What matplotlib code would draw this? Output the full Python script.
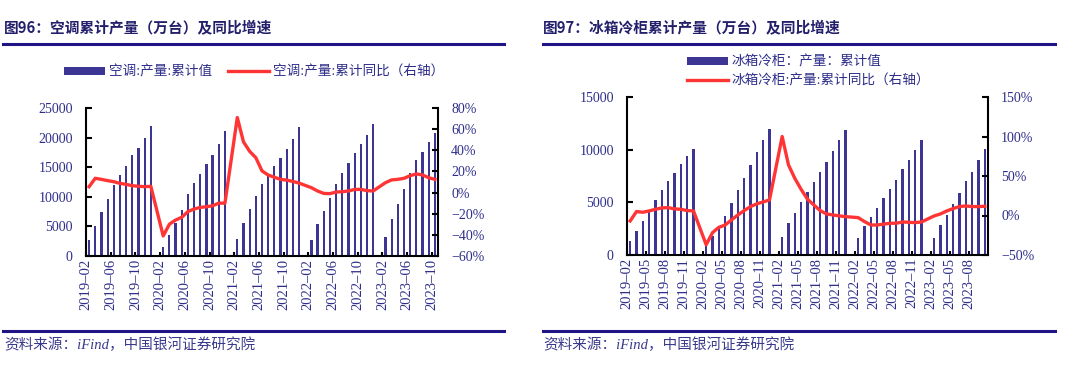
import numpy as np
import matplotlib
matplotlib.use('Agg')
import matplotlib.pyplot as plt
from matplotlib.lines import Line2D
from matplotlib.patches import Patch
from matplotlib.font_manager import FontProperties
from matplotlib.ticker import FuncFormatter

# ── Data (万台 / %), January has no separate value (merged into Jan-Feb) ──
months = [f'{y}-{m:02d}' for y in range(2019, 2024) for m in range(1, 13)]
months = months[1:months.index('2023-10') + 1]

ac_cum = [2660, 5090, 7470, 9670, 11930, 13740, 15210, 17020, 18270, 19910, 21890,
          None, 1530, 3560, 5490, 7750, 10400, 12270, 13860, 15610, 17020, 18950, 21040,
          None, 2830, 5490, 7860, 10120, 12160, 13600, 15210, 16560, 18050, 19720, 21760,
          None, 2770, 5370, 7640, 9840, 12160, 13970, 15670, 17480, 18950, 20420, 22230,
          None, 3240, 6180, 8770, 11310, 13970, 16290, 17650, 19340, 20700]
ac_yoy = [5.6, 13.5, 12.5, 11.3, 10.3, 8.7, 7.8, 6.5, 5.9, 5.6, 5.9,
          None, -41, -30, -26, -23.4, -18, -15.6, -14, -13.4, -12.5, -10, -10,
          None, 71, 48, 39, 33, 20.5, 16.6, 14.5, 12.5, 11.8, 10.5, 9,
          None, 4.6, 1.5, -0.8, -1, 0.5, 0.8, 1.5, 3, 3, 1.8, 1.5,
          None, 9.4, 12, 12.5, 13.5, 16, 17.6, 16.7, 14, 12.5]

fr_cum = [1330, 2280, 3240, 4120, 5230, 6180, 7040, 7830, 8660, 9420, 10050,
          None, 850, 1800, 2650, 3740, 4920, 6180, 7290, 8530, 9740, 10940, 11960,
          None, 1740, 3010, 4030, 5010, 5990, 6910, 7900, 8850, 9860, 10940, 11830,
          None, 1650, 2760, 3580, 4440, 5390, 6280, 7140, 8150, 8980, 9930, 10880,
          None, 1650, 2820, 3770, 4820, 5930, 7010, 7900, 9040, 10050]
fr_yoy = [-6.9, 5, 4.1, 5.8, 7.9, 9.6, 10, 8.3, 7.9, 6.2, 5.8,
          None, -37, -21.7, -15, -12, -5.6, 0.7, 6.2, 11.3, 14.7, 17.2, 19.7,
          None, 100, 64, 47, 33, 20.6, 13.4, 6.2, 2, 0.7, -0.5, -1.4,
          None, -2.7, -7.7, -12, -12, -11, -9.8, -9.8, -8.2, -8.6, -9, -8.2,
          None, -0.5, 2, 5.8, 8.8, 11.3, 12.1, 11.3, 11.3, 11.7]

BAR = '#3C3594'
RED = '#FF3535'
NAVY = '#2E2E8A'
TITLE = '#231F6B'
RULE = '#1E1485'
W, H = 1080, 371

serif_cjk = ['Liberation Serif', 'Noto Sans CJK SC']


def fx(px):
    return px / W


def fy(py):
    return 1 - py / H


def draw_panel(rect, cum, yoy, ylim, ystep, ylim2, ystep2, every):
    ax = fig.add_axes(rect)
    x = np.arange(len(months))
    h = np.array([np.nan if v is None else v for v in cum], dtype=float)
    r = np.array([np.nan if v is None else v for v in yoy], dtype=float)

    ax.bar(x, h, width=0.36, color=BAR, zorder=2)
    ax.set_xlim(-0.5, len(months) - 0.5)
    ax.set_ylim(*ylim)
    ax.set_yticks(np.arange(ylim[0], ylim[1] + 1, ystep))

    ax2 = ax.twinx()
    ok = ~np.isnan(r)
    ax2.plot(x[ok], r[ok], color=RED, lw=2.4, solid_joinstyle='round')
    ax2.set_ylim(*ylim2)
    ax2.set_yticks(np.arange(ylim2[0], ylim2[1] + 1, ystep2))
    ax2.yaxis.set_major_formatter(
        FuncFormatter(lambda v, _: f'{v:.0f}%'.replace('-', '\u2212')))

    ticks = x[::every]
    ax.set_xticks(ticks - 0.5)
    ax.set_xticklabels([months[i].replace('-', '\u2013') for i in ticks])

    for a in (ax, ax2):
        a.spines['top'].set_visible(False)
        for s in a.spines.values():
            s.set_linewidth(1.5)
    ax.spines['right'].set_visible(False)
    ax2.spines['left'].set_visible(False)
    ax2.spines['bottom'].set_visible(False)

    ax.tick_params(axis='x', direction='in', length=3, width=1.5, pad=2,
                   labelrotation=90, labelsize=10.5, labelcolor=NAVY)
    for a in (ax, ax2):
        a.tick_params(axis='y', direction='in', length=4, width=1.5, pad=9.5,
                      labelsize=10, labelcolor=NAVY)
        for lab in a.get_xticklabels() + a.get_yticklabels():
            lab.set_family('Liberation Serif')
    return ax, ax2


fig = plt.figure(figsize=(W / 100, H / 100), dpi=100)

# ── Left panel: air conditioners ──
draw_panel([fx(86), fy(256), fx(438) - fx(86), fy(108) - fy(256)],
           ac_cum, ac_yoy, (0, 25000), 5000, (-60, 80), 20, 4)
# ── Right panel: fridges / freezers ──
draw_panel([fx(627), fy(255), fx(988) - fx(627), fy(97) - fy(255)],
           fr_cum, fr_yoy, (0, 15000), 5000, (-50, 150), 50, 3)

title_kw = dict(fontsize=10.6, fontweight='bold', color=TITLE,
                family=['Noto Sans CJK SC'], va='center')
fig.text(fx(4), fy(28), '图96：空调累计产量（万台）及同比增速', **title_kw)
fig.text(fx(543), fy(28), '图97：冰箱冷柜累计产量（万台）及同比增速', **title_kw)

for x0, x1 in ((3, 504), (543, 1055)):
    for yy in (44, 331):
        fig.add_artist(Line2D([fx(x0), fx(x1)], [fy(yy), fy(yy)], color=RULE,
                              lw=2.2, transform=fig.transFigure))

src_kw = dict(fontsize=10.5, style='italic', color='#3A3A8C',
              family=serif_cjk, va='center')
fig.text(fx(4), fy(345), '资料来源：iFind，中国银河证券研究院', **src_kw)
fig.text(fx(543), fy(345), '资料来源：iFind，中国银河证券研究院', **src_kw)

leg_font = FontProperties(family=serif_cjk, size=9.8)
bar_h = Patch(facecolor=BAR, edgecolor='none')
red_h = Line2D([], [], color=RED, lw=2.4)

fig.legend([bar_h, red_h], ['空调:产量:累计值', '空调:产量:累计同比（右轴）'],
           loc='center', bbox_to_anchor=(fx(254), fy(72)), ncol=2,
           frameon=False, prop=leg_font, handlelength=3, handleheight=0.55,
           columnspacing=1.2, handletextpad=0.3, labelcolor=NAVY)
fig.legend([bar_h, red_h], ['冰箱冷柜：产量：累计值', '冰箱冷柜:产量:累计同比（右轴）'],
           loc='center left', bbox_to_anchor=(fx(687), fy(71.5)), ncol=1,
           frameon=False, prop=leg_font, handlelength=3, handleheight=0.55,
           labelspacing=0.4, handletextpad=0.3, borderpad=0, borderaxespad=0,
           labelcolor=NAVY)

fig.savefig('out.png', dpi=100)
